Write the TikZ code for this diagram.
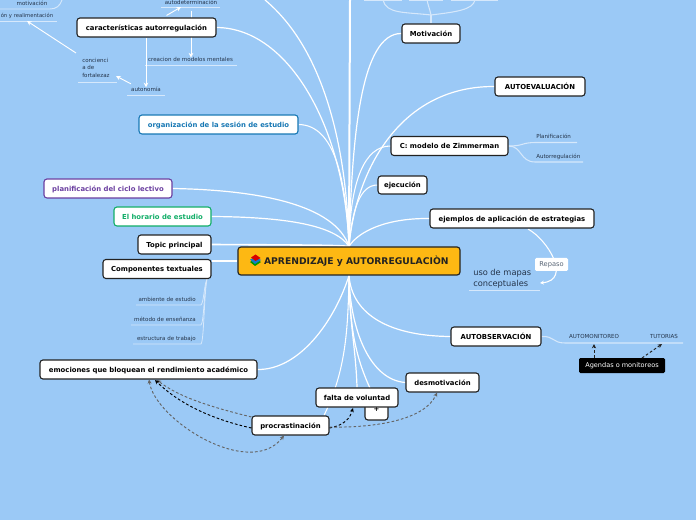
\documentclass[tikz,border=0pt]{standalone}
\usepackage{fontspec}
\setmainfont{DejaVu Sans}
\usetikzlibrary{arrows.meta,backgrounds}
\definecolor{bgc}{HTML}{9BC9F6}
\definecolor{ink}{HTML}{222222}
\definecolor{subink}{HTML}{24344A}
\definecolor{gold}{HTML}{FDB813}
\definecolor{bluec}{HTML}{1878B4}
\definecolor{purplec}{HTML}{6B3FA0}
\definecolor{greenc}{HTML}{12AE68}
\definecolor{lineb}{HTML}{D6E8FB}
\tikzset{
  x=0.75pt,y=-0.75pt,
  sz/.style 2 args={minimum width=#1*0.75pt,minimum height=#2*0.75pt},
  boxn/.style={draw=ink,fill=white,rounded corners=2.2pt,line width=0.8pt,inner sep=0pt,text=black,text height=4.2pt,text depth=0pt,font=\fontsize{5.15}{6}\selectfont\bfseries},
  subt/.style={inner sep=0pt,text=subink,font=\fontsize{4.15}{5.6}\selectfont},
  branch/.style={draw=white,line width=.9pt},
  thin branch/.style={draw=lineb,line width=0.8pt},
  ul/.style={draw=lineb,line width=0.7pt},
  wa/.style={draw=white,line width=0.7pt,-{Stealth[length=3.5pt,width=3.5pt]}},
  da/.style={draw=#1,line width=0.7pt,dashed,dash pattern=on 2pt off 1.6pt,-{Stealth[length=3.2pt,width=3pt]}},
}
\begin{document}
\begin{tikzpicture}
\useasboundingbox (0,0) rectangle (696,520);
\clip (0,0) rectangle (696,520);
\begin{pgfonlayer}{background}
\fill[bgc] (0,0) rectangle (696,520);
\end{pgfonlayer}
% boxes
\node[boxn,sz={222}{28},fill=gold,line width=0.9pt,text height=4.8pt,font=\fontsize{6.9}{7}\selectfont\bfseries,text=ink] (central) at (349,261) {\hspace{11pt}APRENDIZAJE y AUTORREGULACIÒN};
\node[boxn,sz={139}{19}] (carac) at (146.5,27.5) {características autorregulación};
\node[boxn,sz={159}{19},draw=bluec,text=bluec] (orga) at (218.5,124.5) {organización de la sesión de estudio};
\node[boxn,sz={58}{19}] (moti) at (431,33.5) {Motivación};
\node[boxn,sz={90}{19}] (autoev) at (540,86.5) {AUTOEVALUACIÓN};
\node[boxn,sz={117}{19}] (zimm) at (449.5,146) {C: modelo de Zimmerman};
\node[boxn,sz={49}{18}] (ejec) at (402.5,185) {ejecución};
\node[boxn,sz={164}{19}] (ejem) at (512,218.5) {ejemplos de aplicación de estrategias};
\node[boxn,sz={128}{19},draw=purplec,text=purplec] (plan) at (108,188.5) {planificación del ciclo lectivo};
\node[boxn,sz={97}{19},draw=greenc,text=greenc] (hora) at (162.5,216.5) {El horario de estudio};
\node[boxn,sz={73}{19}] (topic) at (174.5,244.5) {Topic principal};
\node[boxn,sz={108}{19}] (comp) at (157,269) {Componentes textuales};
\node[boxn,sz={217}{19}] (emoc) at (148.5,369.5) {emociones que bloquean el rendimiento académico};
\node[boxn,sz={90}{19}] (autob) at (496,336.5) {AUTOBSERVACIÓN};
\node[boxn,sz={23}{18}] (plus) at (376.5,411) {\raisebox{1.5pt}{+}};
\node[boxn,sz={82}{19}] (falta) at (357,397.5) {falta de voluntad};
\node[boxn,sz={73}{19}] (desm) at (442.5,382.5) {desmotivación};
\node[boxn,sz={77}{19}] (proc) at (290.5,425.5) {procrastinación};
\node[draw=none,fill=white,rounded corners=1pt,sz={33}{13},inner sep=0pt,text=subink!75,font=\fontsize{5}{5}\selectfont] (repaso) at (551.5,264.5) {Repaso};
\node[fill=black,rounded corners=1pt,sz={86}{15},inner sep=0pt,text=white,font=\fontsize{4.9}{5}\selectfont] (agen) at (622,365.5) {Agendas o monitoreos};
% sub labels
\node[subt,anchor=base] (tmot) at (32,6) {motivación};
\node[subt,anchor=base west,font=\fontsize{3.95}{5}\selectfont] (treal) at (0.5,18) {ón y realimentación};
\node[subt,anchor=base] (tdet) at (191,5) {autodeterminación};
\node[subt,anchor=base] (tcrea) at (190.5,62) {creacion de modelos mentales};
\node[subt,anchor=base] (tauto) at (146,92) {autonomía};
\node[subt,anchor=north west,align=left] (tconc) at (82,58) {concienci\\a de\\fortalezaz};
\node[subt,anchor=base east] (tamb) at (196,301) {ambiente de estudio};
\node[subt,anchor=base east] (tmet) at (196,321) {método de enseñanza};
\node[subt,anchor=base east] (test) at (196,340) {estructura de trabajo};
\node[subt,anchor=base west] (tplan) at (536,139) {Planificación};
\node[subt,anchor=base west] (tareg) at (536,159) {Autorregulación};
\node[subt,anchor=base] (tamon) at (594,339) {AUTOMONITOREO};
\node[subt,anchor=base] (ttut) at (664,339) {TUTORIAS};
\node[inner sep=0pt,anchor=north west,align=left,text=subink,font=\fontsize{6.2}{8}\selectfont] (tuso) at (473,269) {uso de mapas\\conceptuales};
% free ends
\coordinate (topa) at (350,0);
\coordinate (topb) at (265,0);
\coordinate (m1) at (383,0);
\coordinate (m2) at (427,0);
\coordinate (m3) at (475,0);
\coordinate (mf) at (431,15);
\coordinate (concend) at (116,76);
\begin{pgfonlayer}{background}
% fan
\draw[branch,line width=1.5pt] (central.north) -- (topa);
\draw[branch] (central.north) .. controls (347,150) and (325,50) .. (topb);
\draw[branch] (central.north) .. controls (345,130) and (290,28) .. (carac.east);
\draw[branch,line width=.8pt] (central.north) .. controls (346,180) and (335,125) .. (orga.east);
\draw[branch] (central.north) .. controls (335,205) and (260,190) .. (plan.east);
\draw[branch] (central.north) .. controls (335,225) and (285,217) .. (hora.east);
\draw[branch,line width=1.2pt] (central.north) .. controls (335,245) and (300,245) .. (topic.east);
\draw[branch] (central.west) -- (comp.east |- central.west);
\draw[branch] (central.north) .. controls (352,140) and (360,33) .. (moti.west);
\draw[branch] (central.north) .. controls (356,170) and (400,86) .. (autoev.west);
\draw[branch,line width=.8pt] (central.north) .. controls (350,180) and (365,146) .. (zimm.west);
\draw[branch,line width=.8pt] (central.north) .. controls (352,210) and (360,185) .. (ejec.west);
\draw[branch] (central.north) .. controls (358,232) and (385,218) .. (ejem.west);
\draw[branch] (central.south) .. controls (352,315) and (390,336) .. (autob.west);
\draw[branch] (central.south) .. controls (350,330) and (370,380) .. (desm.west);
\draw[branch] (central.south) .. controls (350,330) and (355,360) .. (plus.north);
\draw[branch] (central.south) .. controls (349,320) and (356,350) .. (falta.north);
\draw[branch,line width=.8pt] (central.south) .. controls (348,330) and (346,370) .. (proc.north -| 324,0);
\draw[branch] (central.south) .. controls (335,320) and (300,370) .. (emoc.east);
% Motivación branches
\draw[thin branch] (moti.north) -- (mf);
\draw[thin branch] (mf) .. controls (405,12) and (386,14) .. (m1);
\draw[thin branch] (mf) .. controls (430,10) and (428,5) .. (m2);
\draw[thin branch] (mf) .. controls (455,12) and (473,10) .. (m3);
\draw[ul] (364,0) -- (402,0) (409,0) -- (443,0) (451,0) -- (498,0);
% Zimmerman
\draw[thin branch] (zimm.east) .. controls (525,146) and (520,142.5) .. (537,142.5) -- (577,142.5);
\draw[thin branch] (zimm.east) .. controls (522,146) and (520,162) .. (535,162) -- (583,162);
% características labels
\draw[ul] (161,7) -- (220,7);
\draw[ul] (145,65) -- (237,65);
\draw[ul] (127,95) -- (165,95);
\draw[ul] (78,82) -- (117,82);
\draw[ul] (0,21) -- (57,21);
\draw[ul] (0,9) -- (50,9) .. controls (56,9) and (60,6) .. (62,0);
\draw[wa] (carac.south -| tdet) ++(0,-27) coordinate (ca) -- (ca |- tcrea.north);
\draw[wa] (carac.south -| tauto) -- (tauto.north);
\draw[wa] (tauto.west) ++(0,-6) coordinate (cb) -- (concend);
\draw[wa] (carac.north) ++(20,-2) coordinate (cc) -- (181,7);
\draw[wa] (76,53) coordinate (cd) -- (27,21);
% Componentes
\draw[thin branch,line width=.6pt] (207,279) .. controls (204,285) and (204,302) .. (201,305) -- (136,305);
\draw[thin branch,line width=.6pt] (207,279) .. controls (204,290) and (204,322) .. (201,325) -- (131,325);
\draw[thin branch,line width=.6pt] (207,279) .. controls (204,295) and (204,341) .. (201,344) -- (133,344);
% ejemplos
\draw[branch,line width=.8pt,-{Stealth[length=3pt,width=3pt]}] (528,229) .. controls (548,240) and (572,280) .. (540,283);
\draw[ul] (469,290) -- (540,290);
% autobservación
\draw[thin branch] (autob.east) .. controls (555,336) and (552,343) .. (565,343) -- (683,343);
\end{pgfonlayer}
% dashed relations
\draw[da=ink] (agen.north -| tamon) -- (tamon.south |- 0,344);
\draw[da=ink] (642,358) coordinate (ga) -- (662,344);
\draw[da=ink!70] (proc.west |- 0,417) coordinate (p1) .. controls (215,408) and (180,398) .. (157,380);
\draw[da=black] (proc.west |- 0,428) coordinate (p2) .. controls (215,420) and (180,405) .. (155,380);
\draw[da=ink!70,{Stealth[length=3.2pt,width=3pt]}-{Stealth[length=3.2pt,width=3pt]}] (149,379.5) .. controls (155,420) and (250,480) .. (proc.south -| 284,0);
\draw[da=black] (proc.east |- 0,428) coordinate (p3) .. controls (345,425) and (350,418) .. (353,408);
\draw[da=ink!70] (proc.east |- 0,427) coordinate (p4) .. controls (375,428) and (425,420) .. (437,392.5);
% book icon
\fill[green!60!black] (250,262) -- (255,266) -- (261,262) -- (255,259) -- cycle;
\fill[cyan!60!blue] (250,259.5) -- (255,264) -- (261,260) -- (255,257) -- cycle;
\fill[red!85!black] (251,257.5) -- (255.5,261) -- (260.5,258) -- (255.5,254.5) -- cycle;
\end{tikzpicture}
\end{document}
